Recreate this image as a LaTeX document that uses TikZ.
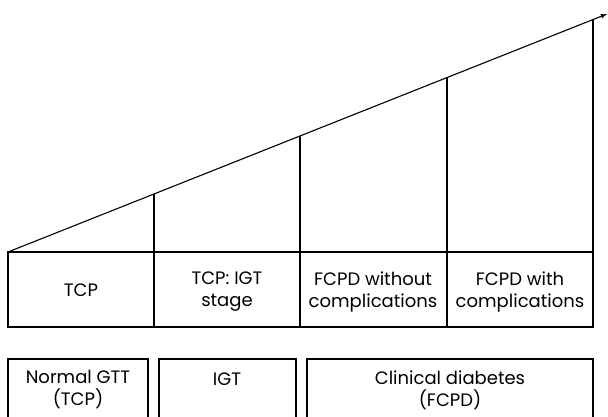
\documentclass[tikz,border=0pt]{standalone}
\usepackage{fontspec}
\setmainfont{Poppins}
\usetikzlibrary{arrows}

\begin{document}
\begin{tikzpicture}[x=1pt,y=-1pt,line width=1.1pt,
  cell/.style={font=\fontsize{18}{22}\selectfont,align=center}]
 \useasboundingbox (0,0) rectangle (608,417);
 % rising line and stage table
 \coordinate (o) at (8,252);
 \coordinate (tip) at (607,14);
 \draw[-latex] (o)--(tip);
 \draw (o) rectangle (593,327);
 \foreach \x/\n in {154/a,300/b,447/c,593/d}
  \draw (\x,{252-0.3973*(\x-8)}) coordinate (\n)--(\x,327);
 \node[cell] (tcp) at (81,290) {TCP};
 \node[cell] (igtstage) at (227,292) {TCP: IGT\\stage};
 \node[cell] (nocomp) at (373,292) {FCPD without\\complications};
 \node[cell] (comp) at (520,292) {FCPD with\\complications};
 % bottom boxes
 \draw (8,418) |- (148,359) -- (148,418);
 \draw (159,418) |- (296,359) -- (296,418);
 \draw (307,418) |- (593,359) -- (593,418);
 \node[cell] (normal) at (78,390) {Normal GTT\\(TCP)};
 \node[cell,anchor=base] (igt) at (227,385) {IGT};
 \node[cell] (clinical) at (450,390) {Clinical diabetes\\(FCPD)};
\end{tikzpicture}
\end{document}
